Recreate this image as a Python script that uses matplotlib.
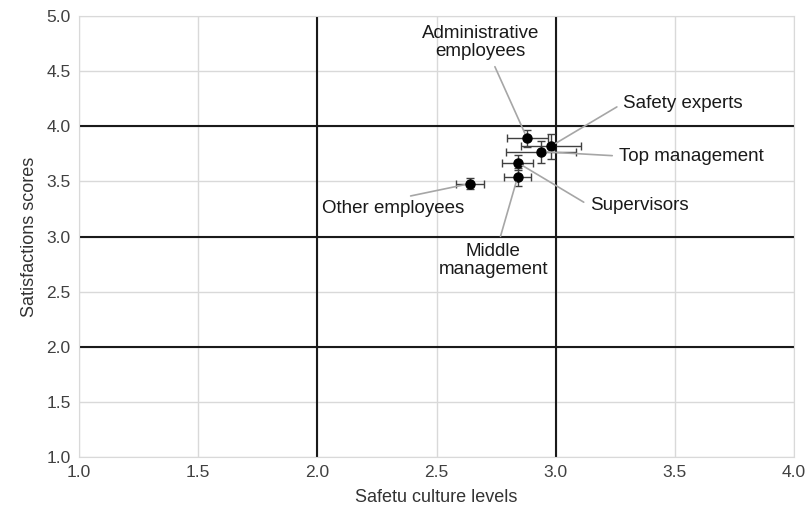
import matplotlib
matplotlib.use("Agg")
import matplotlib.pyplot as plt

plt.rcParams['font.family'] = ['Liberation Sans', 'DejaVu Sans']

# group means and error bar half-widths
groups = ["Administrative\nemployees", "Safety experts", "Top management",
          "Supervisors", "Middle\nmanagement", "Other employees"]
culture = [2.88, 2.98, 2.94, 2.84, 2.84, 2.64]
satisfaction = [3.89, 3.82, 3.77, 3.67, 3.54, 3.48]
culture_err = [0.086, 0.127, 0.147, 0.066, 0.056, 0.057]
satisfaction_err = [0.076, 0.113, 0.10, 0.068, 0.079, 0.05]

# reference lines (thick black)
x_refs = [2.0, 3.0]
y_refs = [2.0, 3.0, 4.0]

fig = plt.figure(figsize=(8.12, 5.17), dpi=100)
ax = fig.add_axes([0.0973, 0.116, 0.8807, 0.853])

ax.set_xlim(1.0, 4.0)
ax.set_ylim(1.0, 5.0)
ax.set_xticks([1.0, 1.5, 2.0, 2.5, 3.0, 3.5, 4.0])
ax.set_yticks([1.0, 1.5, 2.0, 2.5, 3.0, 3.5, 4.0, 4.5, 5.0])
ax.set_xticklabels([f"{v:.1f}" for v in ax.get_xticks()])
ax.set_yticklabels([f"{v:.1f}" for v in ax.get_yticks()])
ax.grid(True, color="#d9d9d9", linewidth=1.0)
ax.set_axisbelow(True)
for s in ax.spines.values():
    s.set_color("#d9d9d9")
ax.tick_params(length=0, labelsize=12.5, colors="#404040", pad=6)

for xv in x_refs:
    ax.axvline(xv, color="#1a1a1a", linewidth=1.5, zorder=1)
for yv in y_refs:
    ax.axhline(yv, color="#1a1a1a", linewidth=1.5, zorder=1)

ax.errorbar(culture, satisfaction, xerr=culture_err, yerr=satisfaction_err,
            fmt="o", color="black", markersize=6.5, ecolor="#404040",
            elinewidth=1.0, capsize=3, capthick=1.0, zorder=3)

# label positions (data coords) and where the leader leaves the text
label_pos = [(2.683, 4.76), (3.283, 4.21), (3.266, 3.73),
             (3.144, 3.277), (2.737, 2.78), (2.318, 3.258)]
label_ha = ["center", "left", "left", "left", "center", "center"]
rel = [(0.6, 0.0), (0.0, 0.5), (0.0, 0.5), (0.0, 0.5), (0.55, 1.0), (0.5, 1.0)]

for i, name in enumerate(groups):
    ax.annotate(name, xy=(culture[i], satisfaction[i]), xytext=label_pos[i],
                textcoords="data", ha=label_ha[i], va="center", fontsize=13.5,
                color="#1a1a1a", linespacing=1.1,
                arrowprops=dict(arrowstyle="-", color="#a6a6a6", lw=1.2,
                                shrinkA=3, shrinkB=4, relpos=rel[i]),
                zorder=4)

ax.set_xlabel("Safetu culture levels", fontsize=13, color="#333333", labelpad=6)
ax.set_ylabel("Satisfactions scores", fontsize=13, color="#333333", labelpad=6)

fig.savefig("out.png", dpi=100)
